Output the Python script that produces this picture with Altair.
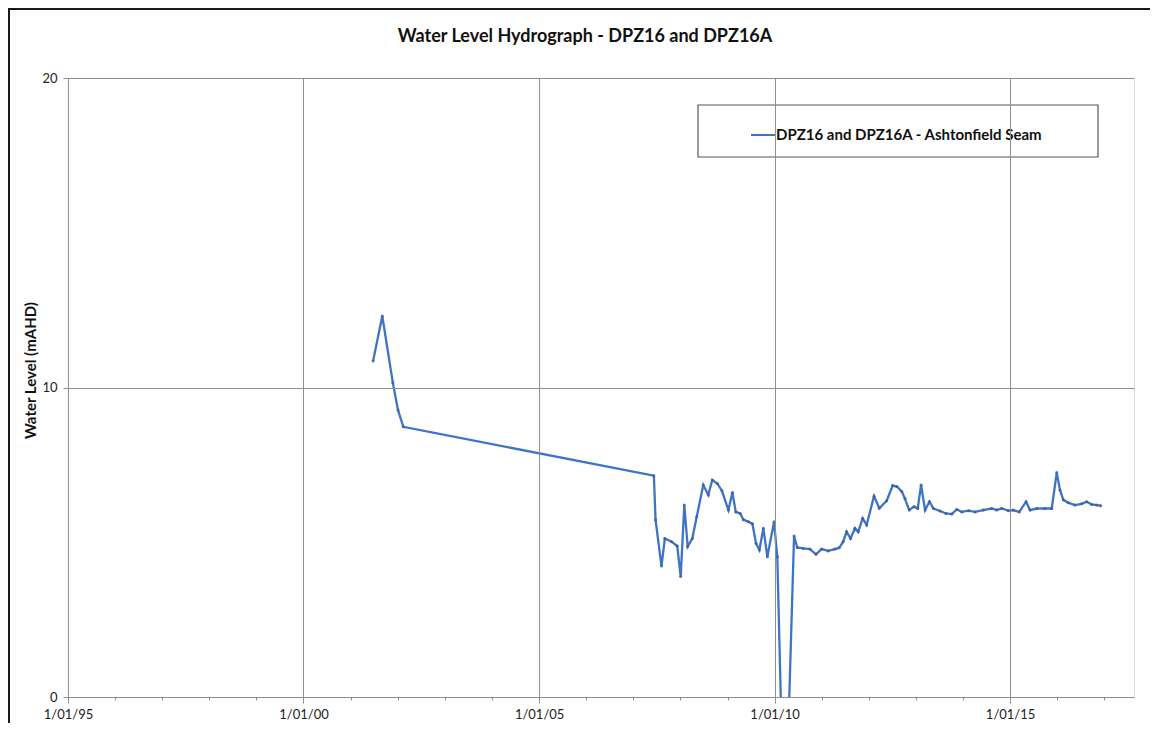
import altair as alt
import pandas as pd

dates = [
    "2001-06-24", "2001-09-03", "2001-11-24", "2002-01-03", "2002-02-13",
    "2007-06-10", "2007-06-23", "2007-08-08", "2007-09-03", "2007-10-25",
    "2007-12-08", "2008-01-04", "2008-02-01", "2008-02-27", "2008-04-03",
    "2008-05-07", "2008-06-27", "2008-08-05", "2008-09-05", "2008-10-14",
    "2008-11-19", "2009-01-08", "2009-02-08", "2009-03-06", "2009-04-09",
    "2009-05-04", "2009-06-12", "2009-07-13", "2009-08-10", "2009-09-05",
    "2009-10-06", "2009-11-06", "2009-12-28", "2010-01-22", "2010-02-24",
    "2010-04-18", "2010-06-01", "2010-06-26", "2010-08-11", "2010-10-02",
    "2010-11-18", "2011-01-01", "2011-02-21", "2011-04-14", "2011-05-17",
    "2011-06-17", "2011-07-13", "2011-08-13", "2011-09-16", "2011-10-12",
    "2011-11-15", "2011-12-16", "2012-02-11", "2012-03-23", "2012-05-19",
    "2012-07-05", "2012-08-06", "2012-09-13", "2012-10-08", "2012-11-10",
    "2012-12-17", "2013-01-15", "2013-02-10", "2013-03-13", "2013-04-16",
    "2013-05-17", "2013-07-07", "2013-08-22", "2013-10-06", "2013-11-14",
    "2013-12-23", "2014-02-12", "2014-04-05", "2014-06-08", "2014-08-11",
    "2014-09-19", "2014-10-28", "2014-12-18", "2015-01-26", "2015-03-13",
    "2015-05-05", "2015-06-05", "2015-07-27", "2015-09-29", "2015-11-20",
    "2015-12-29", "2016-01-23", "2016-02-18", "2016-03-27", "2016-05-18",
    "2016-07-09", "2016-08-17", "2016-09-25", "2016-11-03", "2016-12-04",
]
levels = [
    10.86, 12.31, 10.15, 9.27, 8.73,
    7.15, 5.73, 4.23, 5.12, 5.02,
    4.88, 3.89, 6.20, 4.86, 5.12,
    5.82, 6.85, 6.53, 7.01, 6.90,
    6.66, 6.04, 6.61, 5.98, 5.93,
    5.73, 5.66, 5.60, 4.96, 4.75,
    5.45, 4.53, 5.66, 4.53, -1.0,
    -1.0, 5.20, 4.83, 4.80, 4.78,
    4.61, 4.78, 4.72, 4.78, 4.82,
    5.02, 5.34, 5.12, 5.45, 5.34,
    5.77, 5.56, 6.49, 6.10, 6.34,
    6.83, 6.80, 6.64, 6.41, 6.04,
    6.15, 6.09, 6.85, 6.04, 6.31,
    6.09, 6.01, 5.93, 5.91, 6.06,
    5.98, 6.02, 5.98, 6.04, 6.09,
    6.04, 6.09, 6.02, 6.04, 5.98,
    6.31, 6.04, 6.09, 6.09, 6.09,
    7.25, 6.69, 6.37, 6.28, 6.20,
    6.24, 6.31, 6.22, 6.20, 6.18,
]
series_name = "DPZ16 and DPZ16A - Ashtonfield Seam"
title_text = "Water Level Hydrograph - DPZ16 and DPZ16A"
y_title = "Water Level (mAHD)"
y_ticks = [0, 10, 20]
x_years = list(range(1995, 2018))

df = pd.DataFrame({"date": dates, "level": levels, "series": series_name})

FONT = "Lato"
W, H = 1066, 619
GRID = "#8f8f8f"

x_scale = alt.Scale(
    type="utc",
    domain=[alt.DateTime(year=1995, month=1, date=1, utc=True),
            alt.DateTime(year=2017, month=8, date=19, utc=True)],
)
major = "utcyear(datum.value) % 5 == 0"
x_axis = alt.Axis(
    title=None,
    values=[alt.DateTime(year=y, month=1, date=1, utc=True) for y in x_years],
    labelExpr=f"{major} ? utcFormat(datum.value, '%-d/%m/%y') : ''",
    grid=True,
    gridColor=GRID,
    gridOpacity={"condition": {"test": major, "value": 1}, "value": 0},
    tickSize={"condition": {"test": major, "value": 6}, "value": 3},
    tickColor=GRID,
    domainColor=GRID,
    labelFont=FONT,
    labelFontSize=13,
    labelColor="#222222",
    labelPadding=5,
    labelOverlap=False,
    labelFlush=False,
    zindex=1,
)
y_axis = alt.Axis(
    title=y_title,
    values=y_ticks,
    grid=True,
    gridColor=GRID,
    tickColor=GRID,
    tickSize=5,
    domainColor=GRID,
    labelFont=FONT,
    labelFontSize=13,
    labelColor="#222222",
    labelPadding=6,
    titleFont=FONT,
    titleFontSize=15,
    titleFontWeight="bold",
    titleColor="#111111",
    titlePadding=3,
    titleY=292,
    zindex=1,
)

frame = alt.Chart(pd.DataFrame({"k": [0]})).mark_rect(
    fill="transparent", stroke="#1a1a1a", strokeWidth=2, clip=False
).encode(
    x=alt.value(-59), x2=alt.value(1110), y=alt.value(-69), y2=alt.value(700)
)

legend_box = alt.Chart(pd.DataFrame({"k": [0]})).mark_rect(
    fill="white", stroke="#555555", strokeWidth=1.2
).encode(
    x=alt.value(630), x2=alt.value(1030), y=alt.value(27), y2=alt.value(79)
)

color = alt.Color(
    "series:N",
    scale=alt.Scale(domain=[series_name], range=["#3d74c6"]),
    legend=alt.Legend(
        title=None,
        orient="none",
        legendX=682,
        legendY=44,
        symbolType="stroke",
        symbolSize=576,
        symbolStrokeWidth=2,
        labelFont=FONT,
        labelFontSize=15,
        labelFontWeight="bold",
        labelColor="#111111",
        labelOffset=0,
        labelLimit=400,
        padding=0,
    ),
)

line = alt.Chart(df).mark_line(strokeWidth=2.3, clip=True).encode(
    x=alt.X("date:T", scale=x_scale, axis=x_axis),
    y=alt.Y("level:Q", scale=alt.Scale(domain=[0, 20]), axis=y_axis),
    color=color,
)

pts = alt.Chart(df).mark_point(filled=True, size=9, color="#3f5e98", opacity=0.85, clip=True).encode(
    x=alt.X("date:T", scale=x_scale),
    y=alt.Y("level:Q", scale=alt.Scale(domain=[0, 20])),
)

chart = alt.layer(legend_box, line, pts, frame).properties(
    width=W,
    height=H,
    autosize=alt.AutoSizeParams(type="none"),
    padding={"left": 60, "top": 70, "right": 16, "bottom": 26},
    title=alt.TitleParams(
        text=title_text,
        font=FONT,
        fontSize=18,
        fontWeight="bold",
        color="#111111",
        anchor="middle",
        frame="group",
        dx=-16,
        offset=-38,
    ),
).configure_view(stroke=GRID, strokeWidth=1).configure(background="white")

chart.save("out.html", embed_options={"renderer": "svg", "actions": False})
